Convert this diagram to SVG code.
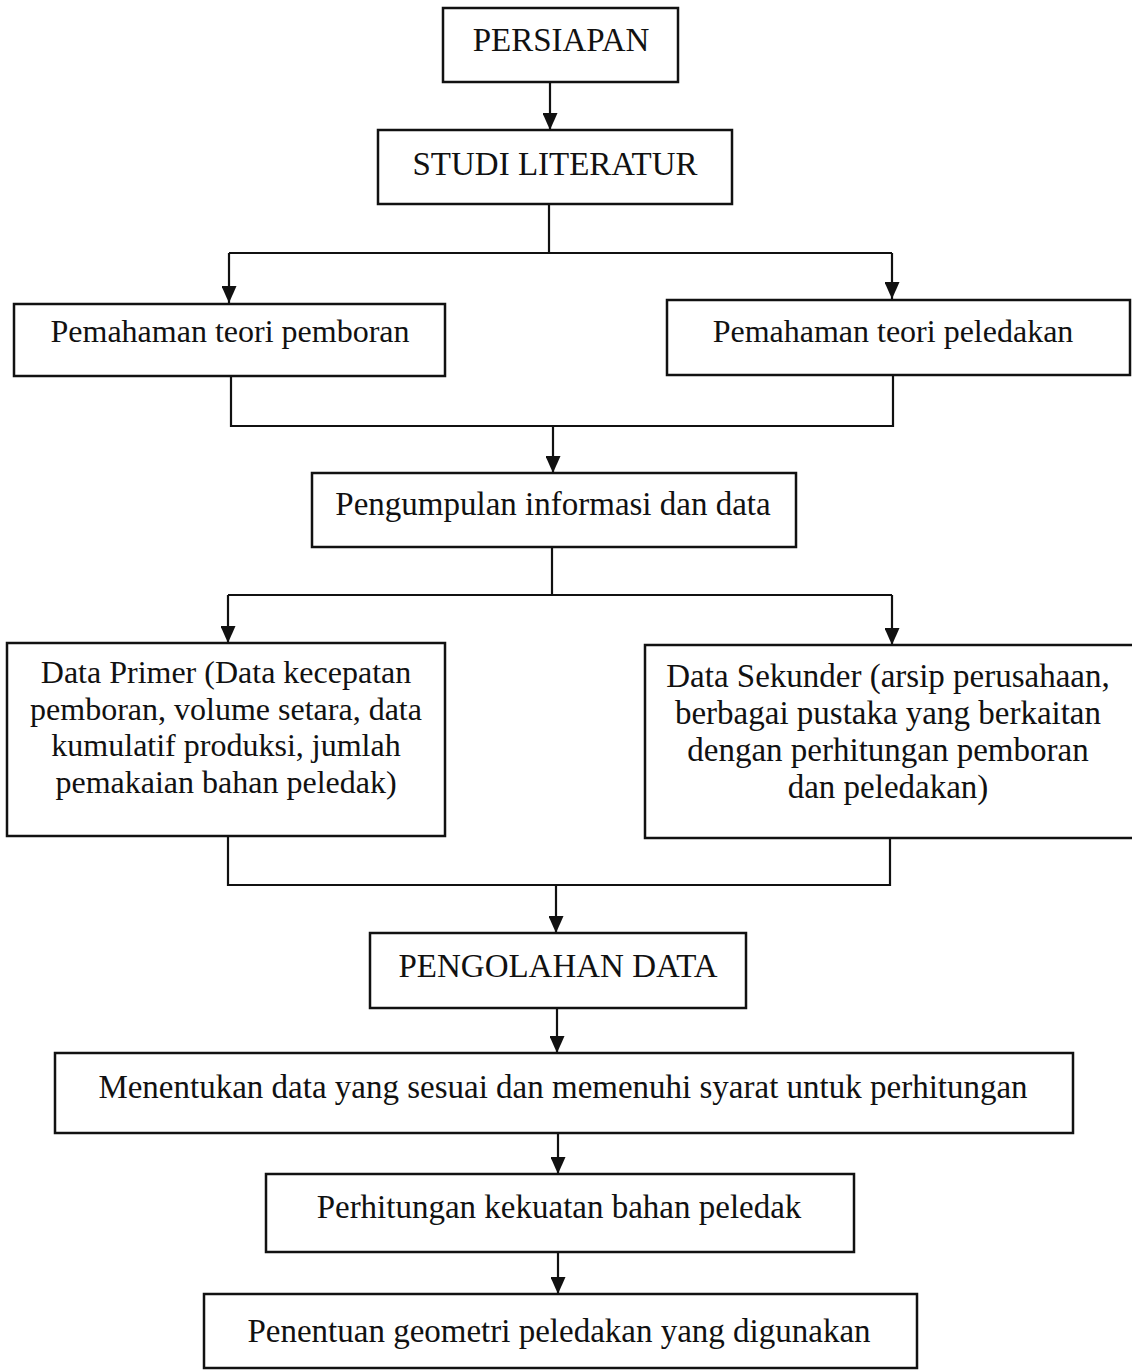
<svg xmlns="http://www.w3.org/2000/svg" width="1132" height="1370" viewBox="0 0 1132 1370">
<style>
.box{fill:#fff;stroke:#111;stroke-width:2.5}
.t{font-family:"Liberation Serif","Times New Roman",serif;font-size:33px;fill:#111;text-anchor:middle}
.s{font-size:32px}
.c{fill:none;stroke:#111;stroke-width:2.2}
</style>
<defs>
<marker id="ah" markerUnits="userSpaceOnUse" markerWidth="17" markerHeight="15" refX="17" refY="7.5" orient="auto">
<path d="M0,0 L17,7.5 L0,15 z" fill="#111"/>
</marker>
</defs>
<rect width="1132" height="1370" fill="#fff"/>
<g id="connectors">
<path class="c" d="M550,82 V130" marker-end="url(#ah)"/>
<path class="c" d="M549,204 V253"/>
<path class="c" d="M229,253 H892"/>
<path class="c" d="M229,253 V303" marker-end="url(#ah)"/>
<path class="c" d="M892,253 V299" marker-end="url(#ah)"/>
<path class="c" d="M231,376 V426 H893 V375"/>
<path class="c" d="M553,426 V473" marker-end="url(#ah)"/>
<path class="c" d="M552,547 V595"/>
<path class="c" d="M228,595 H892"/>
<path class="c" d="M228,595 V643" marker-end="url(#ah)"/>
<path class="c" d="M892,595 V645" marker-end="url(#ah)"/>
<path class="c" d="M228,836 V885 H890 V838"/>
<path class="c" d="M556,885 V933" marker-end="url(#ah)"/>
<path class="c" d="M557,1008 V1053" marker-end="url(#ah)"/>
<path class="c" d="M558,1133 V1174" marker-end="url(#ah)"/>
<path class="c" d="M558,1252 V1294" marker-end="url(#ah)"/>
</g>
<g id="n1"><rect class="box" x="443" y="8" width="235" height="74"/><text class="t" x="561" y="51">PERSIAPAN</text></g>
<g id="n2"><rect class="box" x="378" y="130" width="354" height="74"/><text class="t" x="555" y="175">STUDI LITERATUR</text></g>
<g id="n3"><rect class="box" x="14" y="304" width="431" height="72"/><text class="t s" x="230" y="342">Pemahaman teori pemboran</text></g>
<g id="n4"><rect class="box" x="667" y="300" width="463" height="75"/><text class="t s" x="893" y="342">Pemahaman teori peledakan</text></g>
<g id="n5"><rect class="box" x="312" y="473" width="484" height="74"/><text class="t" x="553" y="515">Pengumpulan informasi dan data</text></g>
<g id="n6"><rect class="box" x="7" y="643" width="438" height="193"/>
<text class="t s" x="226" y="683">Data Primer (Data kecepatan</text>
<text class="t s" x="226" y="720">pemboran, volume setara, data</text>
<text class="t s" x="226" y="756">kumulatif produksi, jumlah</text>
<text class="t s" x="226" y="793">pemakaian bahan peledak)</text></g>
<g id="n7"><rect class="box" x="645" y="645" width="490" height="193"/>
<text class="t" x="888" y="687">Data Sekunder (arsip perusahaan,</text>
<text class="t" x="888" y="724">berbagai pustaka yang berkaitan</text>
<text class="t" x="888" y="761">dengan perhitungan pemboran</text>
<text class="t" x="888" y="798">dan peledakan)</text></g>
<g id="n8"><rect class="box" x="370" y="933" width="376" height="75"/><text class="t" x="558" y="977">PENGOLAHAN DATA</text></g>
<g id="n9"><rect class="box" x="55" y="1053" width="1018" height="80"/><text class="t" x="563" y="1098">Menentukan data yang sesuai dan memenuhi syarat untuk perhitungan</text></g>
<g id="n10"><rect class="box" x="266" y="1174" width="588" height="78"/><text class="t" x="559" y="1218">Perhitungan kekuatan bahan peledak</text></g>
<g id="n11"><rect class="box" x="204" y="1294" width="713" height="74"/><text class="t" x="559" y="1342">Penentuan geometri peledakan yang digunakan</text></g>
</svg>
